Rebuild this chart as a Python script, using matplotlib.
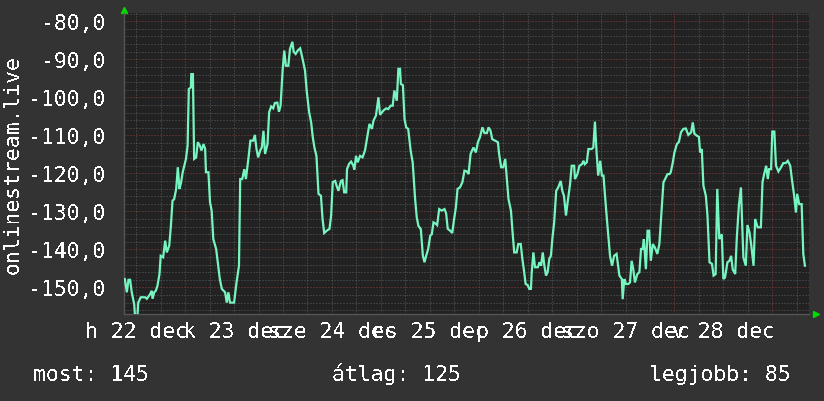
import matplotlib
matplotlib.use("Agg")
import matplotlib.pyplot as plt
from matplotlib.ticker import FuncFormatter
import numpy as np

# hours since 22 dec 00:00, and the measured value
hours = [
    9.2, 9.7, 10.1, 10.5, 10.9, 11.5, 11.7, 12.3, 12.5, 13.1, 14.2, 14.6, 15.4, 15.8, 16.0,
    16.4, 16.8, 17.2, 17.7, 18.0, 18.6, 19.1, 19.5, 20.1, 20.5, 20.9, 21.3, 21.8, 22.2, 22.6,
    23.0, 23.4, 23.8, 24.2, 24.6, 24.9, 25.4, 25.5, 25.9, 26.2, 26.7, 27.1, 27.6, 28.0, 28.5,
    28.9, 29.1, 29.7, 30.1, 30.5, 30.9, 31.6, 32.1, 32.5, 33.0, 33.8, 34.2, 34.6, 35.0, 36.0,
    36.2, 36.6, 37.2, 37.5, 38.0, 38.5, 38.9, 39.5, 40.0, 40.7, 41.1, 41.5, 41.9, 42.4, 42.8,
    43.2, 43.6, 44.2, 44.6, 45.1, 45.6, 46.0, 46.6, 47.0, 47.4, 47.9, 48.3, 48.7, 49.3, 49.7,
    50.3, 50.6, 51.1, 51.6, 52.2, 52.8, 53.4, 53.8, 54.4, 54.9, 55.3, 55.7, 56.2, 56.7, 57.3,
    57.7, 58.1, 58.7, 59.4, 59.8, 60.2, 60.8, 61.2, 61.6, 62.2, 62.6, 63.0, 63.5, 63.7, 64.2,
    64.7, 65.2, 65.5, 65.9, 66.3, 66.9, 67.5, 68.1, 68.7, 69.2, 69.8, 70.2, 70.8, 71.4, 71.8,
    72.6, 73.3, 73.8, 74.4, 74.9, 75.3, 75.9, 76.3, 76.7, 76.9, 77.4, 77.8, 78.2, 78.7, 79.3,
    79.8, 80.4, 80.8, 81.2, 81.8, 82.3, 82.7, 83.1, 83.6, 84.1, 84.5, 84.9, 85.5, 85.8, 86.3,
    86.9, 87.6, 88.0, 88.4, 89.0, 89.5, 89.9, 90.4, 90.8, 91.4, 92.0, 92.5, 93.1, 93.5, 94.0,
    94.7, 95.3, 95.8, 96.3, 96.9, 97.4, 98.0, 98.4, 98.9, 99.3, 100.0, 100.7, 101.0, 101.5, 102.0,
    102.5, 102.9, 103.3, 103.9, 104.3, 104.7, 105.3, 105.7, 106.3, 106.7, 107.1, 107.5, 108.0, 108.4, 108.8,
    109.0, 109.4, 109.8, 110.5, 110.9, 111.3, 111.7, 112.1, 112.5, 112.9, 113.3, 113.7, 114.1, 114.5, 115.0,
    115.5, 116.1, 116.5, 116.9, 117.4, 117.8, 118.4, 118.8, 119.4, 119.6, 120.2, 120.7, 121.3, 121.7, 122.0,
    122.5, 122.9, 123.7, 124.1, 124.5, 124.9, 125.3, 125.8, 126.2, 126.6, 127.0, 127.5, 128.2, 128.7, 129.2,
    129.8, 130.5, 131.1, 131.3, 131.7, 132.1, 132.7, 133.1, 133.5, 133.9, 134.3, 134.9, 135.4, 135.8, 136.2,
    136.5, 137.0, 137.4, 137.8, 138.2, 138.7, 139.2, 139.8, 140.3, 140.7, 141.3, 141.7, 142.3, 142.8, 143.1,
    143.6, 144.0, 144.6, 145.1, 145.6, 146.2, 146.8, 147.4, 148.1, 148.5, 148.9, 149.5, 150.0, 150.3, 150.7,
    151.1, 151.7, 152.1, 152.6, 153.2, 153.6, 154.1, 154.5, 155.0, 155.6, 156.0, 156.4, 157.0, 157.5, 157.9,
    158.3, 158.9, 159.3, 159.8, 160.3, 160.9, 161.5, 161.9, 162.4, 162.8, 163.4, 163.8, 164.4, 165.2, 165.6,
    166.0, 166.5, 166.9, 167.2, 167.7, 168.0, 168.5, 168.9, 169.5, 170.1, 170.7, 171.3, 171.8, 172.4, 172.8,
    173.3, 173.8, 174.1, 174.6, 175.2, 175.6, 176.0,
]
values = [
    -147.8, -151.3, -148.0, -148.0, -151.3, -154.4, -157.5, -157.5, -154.0, -152.6, -152.6, -153.0, -151.8, -150.9, -153.0,
    -151.3, -150.9, -149.6, -146.5, -141.7, -142.1, -137.7, -140.8, -139.0, -133.8, -127.2, -126.8, -124.1, -118.4, -124.1,
    -122.4, -119.7, -118.0, -116.2, -112.7, -97.8, -97.4, -93.9, -93.9, -116.2, -115.8, -111.8, -112.7, -114.0, -112.3,
    -113.6, -119.7, -119.7, -127.6, -129.8, -137.3, -139.9, -144.3, -147.8, -150.4, -151.3, -154.0, -151.3, -154.0, -154.0,
    -152.2, -148.7, -144.3, -121.5, -121.5, -118.9, -121.5, -116.2, -111.4, -111.4, -109.9, -113.6, -115.8, -114.0, -113.2,
    -108.8, -114.9, -112.3, -103.9, -102.4, -102.9, -101.5, -101.4, -103.8, -102.2, -93.0, -87.7, -91.7, -91.7, -87.3,
    -85.4, -88.0, -88.6, -87.7, -87.1, -89.9, -93.0, -98.2, -103.9, -106.6, -110.5, -113.2, -115.4, -125.4, -125.9,
    -132.0, -135.7, -135.1, -134.6, -131.1, -122.3, -122.0, -123.5, -124.6, -122.0, -121.8, -125.0, -125.0, -118.9, -117.5,
    -116.9, -117.9, -119.0, -115.4, -117.1, -115.4, -115.8, -114.0, -110.1, -107.0, -108.3, -106.1, -104.8, -100.0, -104.6,
    -103.5, -102.9, -103.1, -102.2, -102.2, -98.2, -100.9, -92.5, -92.5, -96.5, -96.8, -105.7, -107.9, -108.3, -114.0,
    -117.1, -126.8, -131.6, -133.8, -134.7, -141.7, -143.4, -141.7, -139.9, -136.4, -136.0, -132.9, -133.3, -133.6, -129.4,
    -129.8, -129.4, -130.5, -134.6, -135.1, -135.7, -132.5, -128.9, -124.1, -123.7, -122.3, -119.3, -119.5, -120.2, -114.9,
    -113.2, -114.5, -111.8, -110.5, -107.9, -109.4, -109.4, -107.9, -108.8, -111.0, -111.4, -111.8, -114.9, -118.4, -118.4,
    -116.2, -121.5, -126.8, -129.8, -135.5, -140.8, -140.8, -138.6, -138.6, -142.5, -145.6, -149.1, -149.4, -150.4, -150.4,
    -146.0, -140.8, -144.7, -144.7, -143.4, -144.3, -140.8, -144.3, -146.9, -146.0, -142.5, -141.7, -136.8, -132.9, -124.6,
    -123.7, -122.0, -124.6, -125.9, -131.1, -127.6, -122.8, -118.0, -118.0, -121.5, -120.2, -118.0, -117.6, -116.7, -117.6,
    -117.1, -113.6, -113.6, -113.2, -106.4, -114.5, -120.6, -116.7, -120.6, -120.6, -126.3, -132.9, -141.7, -144.3, -141.7,
    -141.2, -146.9, -147.8, -153.1, -147.8, -149.1, -149.1, -148.7, -143.0, -145.2, -148.7, -146.5, -146.0, -139.9, -139.9,
    -137.3, -145.2, -135.1, -135.1, -143.0, -138.6, -139.5, -141.2, -138.6, -132.0, -122.4, -121.5, -120.2, -120.2, -119.7,
    -117.1, -114.5, -112.3, -111.7, -109.2, -108.3, -108.2, -109.9, -109.2, -106.6, -109.6, -110.1, -110.4, -114.5, -113.6,
    -123.2, -125.9, -131.1, -143.4, -143.8, -146.9, -146.5, -124.1, -137.3, -136.0, -147.8, -147.4, -143.4, -143.0, -141.7,
    -145.3, -146.5, -136.8, -128.5, -123.7, -142.1, -144.3, -133.6, -135.5, -138.6, -144.3, -132.0, -134.2, -134.2, -122.3,
    -120.2, -118.0, -121.5, -118.9, -118.9, -109.0, -109.0, -118.0, -119.5, -118.5, -117.3, -117.3, -116.7, -118.0, -121.5,
    -125.4, -130.3, -125.4, -128.1, -128.1, -141.2, -144.3,
]

day_labels = ["h 22 dec", "k 23 dec", "sze 24 dec", "cs 25 dec", "p 26 dec", "szo 27 dec", "v 28 dec"]
y_ticks = [-80, -90, -100, -110, -120, -130, -140, -150]
legend_texts = ["most: 145", "átlag: 125", "legjobb: 85"]
axis_title = "onlinestream.live"

BG = "#333333"
CANVAS = "#222222"
LINE = "#77f5c0"
MINOR = "#5c5c5c"
MAJOR = "#8a3c3c"
ARROW = "#00dd00"
FS = 15.4

plt.rcParams["font.family"] = ["DejaVu Sans Mono"]
plt.rcParams["text.antialiased"] = False

W, H = 824, 402
fig = plt.figure(figsize=(W / 100, H / 100), dpi=100, facecolor=BG)
ax = fig.add_axes([124 / W, 1 - 315 / H, 685 / W, (315 - 14.3) / H])
ax.set_facecolor(CANVAS)

x0, x1 = 9, 177
y0, y1 = -157.0, -77.9
ax.set_xlim(x0, x1)
ax.set_ylim(y0, y1)

# dotted rrd-style grid, 1px dots
dots = (0, (1, 2))
grid_kw = dict(lw=0.72, ls=dots, zorder=1, snap=True)
for v in range(-156, -77, 2):
    if v % 10 == 0:
        continue
    ax.axhline(v, color=MINOR, **grid_kw)
for v in y_ticks:
    ax.axhline(v, color=MAJOR, **grid_kw)
for hh in range(12, 177, 6):
    c = MAJOR if hh % 24 == 0 else MINOR
    ax.axvline(hh, color=c, **grid_kw)

ax.plot(hours, values, color=LINE, lw=1.6, zorder=3, solid_joinstyle="miter")

ax.set_yticks(y_ticks)
ax.yaxis.set_major_formatter(FuncFormatter(lambda v, p: f"{v:.1f}".replace(".", ",")))
ax.set_xticks([12 + 24 * i for i in range(len(day_labels))])
ax.set_xticklabels(day_labels)
ax.tick_params(axis="both", length=0, colors="white", labelsize=FS)
ax.tick_params(axis="y", pad=13)
ax.tick_params(axis="x", pad=5)

for s in ["top", "right"]:
    ax.spines[s].set_visible(False)
for s in ["left", "bottom"]:
    ax.spines[s].set_color("#555555")
    ax.spines[s].set_linewidth(1)

# arrow heads at the axis ends
ax.plot([0], [1.011], marker="^", ms=5, color=ARROW, transform=ax.transAxes, clip_on=False)
ax.plot([1.0102], [0], marker=">", ms=5, color=ARROW, transform=ax.transAxes, clip_on=False)

fig.text(13 / W, 1 - 165 / H, axis_title, rotation=90, ha="center", va="center",
         color="white", fontsize=FS)

fig.text(33 / W, 1 - 381 / H, legend_texts[0], ha="left", va="baseline", color="white", fontsize=FS)
fig.text(332 / W, 1 - 381 / H, legend_texts[1], ha="left", va="baseline", color="white", fontsize=FS)
fig.text(791 / W, 1 - 381 / H, legend_texts[2], ha="right", va="baseline", color="white", fontsize=FS)

fig.savefig("out.png", dpi=100, facecolor=BG)
